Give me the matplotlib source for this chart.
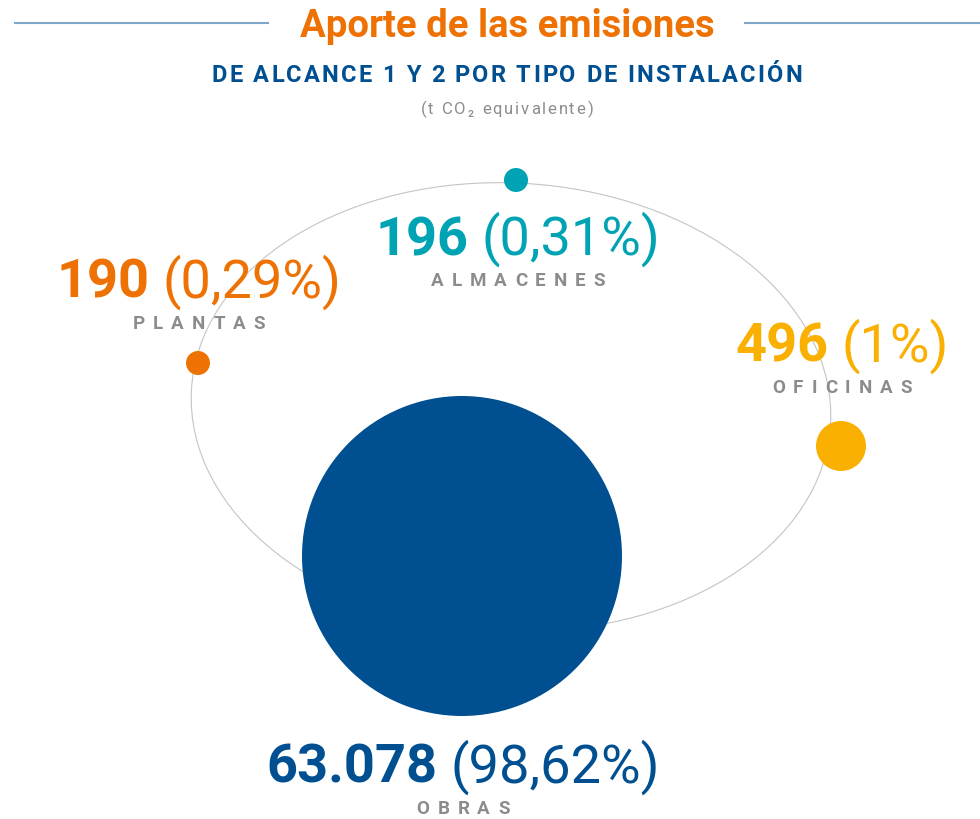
import matplotlib
matplotlib.use("Agg")
import matplotlib.pyplot as plt
from matplotlib.patches import Circle, Ellipse

# data read from the infographic
categories = ["PLANTAS", "ALMACENES", "OFICINAS", "OBRAS"]
values = [190, 196, 496, 63078]
pct_labels = ["0,29%", "0,31%", "1%", "98,62%"]

# layout (pixel coordinates of the 980x820 canvas)
colors = ["#EE7203", "#00A3B4", "#F9B000", "#004F91"]
dot_pos = [(198, 364), (516, 181), (841, 447), (462, 557)]
dot_radius = [12, 12, 25, 160]
label_pos = [(199, 298), (518, 255), (842, 362), (463, 783)]  # center x, number baseline

GREY = "#8C8C8C"
FONT = ["Roboto", "DejaVu Sans"]

fig = plt.figure(figsize=(9.8, 8.2), dpi=100)
ax = fig.add_axes([0, 0, 1, 1])
ax.set_xlim(0, 980)
ax.set_ylim(820, 0)
ax.axis("off")
renderer = fig.canvas.get_renderer()


def fmt_num(v):
    return f"{v:,}".replace(",", ".")


def tracked_text(s, xc, y, tracking, **kw):
    # draws one char at a time so letters can be spaced out
    items = []
    for ch in s:
        t = ax.text(0, y, ch, ha="left", va="baseline", family=FONT, **kw)
        if ch == " ":
            w = kw.get("fontsize", 10) * 0.25 * 100 / 72
        else:
            w = t.get_window_extent(renderer).width
        items.append((t, w))
    total = sum(w for _, w in items) + tracking * (len(items) - 1)
    x = xc - total / 2
    for t, w in items:
        t.set_x(x)
        x += w + tracking


# title with side rules
ax.plot([15, 268], [24, 24], color="#7FA6C9", lw=1.5)
ax.plot([745, 980], [24, 24], color="#7FA6C9", lw=1.5)
ax.text(507, 37, "Aporte de las emisiones", ha="center", va="baseline", fontsize=27.5,
        fontweight="bold", color="#EE7203", family=FONT)
tracked_text("DE ALCANCE 1 Y 2 POR TIPO DE INSTALACIÓN", 507, 82, 2.2,
             fontsize=17, fontweight="bold", color="#004F91")
tracked_text("(t CO₂ equivalente)", 507, 114, 1.9, fontsize=12, color=GREY)

# orbit
ax.add_patch(Ellipse((511, 408), 640, 448, angle=3, fill=False, ec="#C4C4C4", lw=0.8, zorder=1))

for (x, y), r, c in zip(dot_pos, dot_radius, colors):
    ax.add_patch(Circle((x, y), r, color=c, lw=0, zorder=2))

gap = 13
for cat, v, pct, c, (xc, yb) in zip(categories, values, pct_labels, colors, label_pos):
    t1 = ax.text(0, yb, fmt_num(v), ha="left", va="baseline", fontsize=39,
                 fontweight="bold", color=c, family=FONT, zorder=3)
    t2 = ax.text(0, yb, f"({pct})", ha="left", va="baseline", fontsize=39,
                 fontweight="normal", color=c, family=FONT, zorder=3)
    w1 = t1.get_window_extent(renderer).width
    w2 = t2.get_window_extent(renderer).width
    x0 = xc - (w1 + gap + w2) / 2
    t1.set_x(x0)
    t2.set_x(x0 + w1 + gap)
    tracked_text(cat, xc, yb + 31, 8, fontsize=13.5, fontweight="bold", color=GREY)

fig.savefig("out.png", dpi=100, facecolor="white")
